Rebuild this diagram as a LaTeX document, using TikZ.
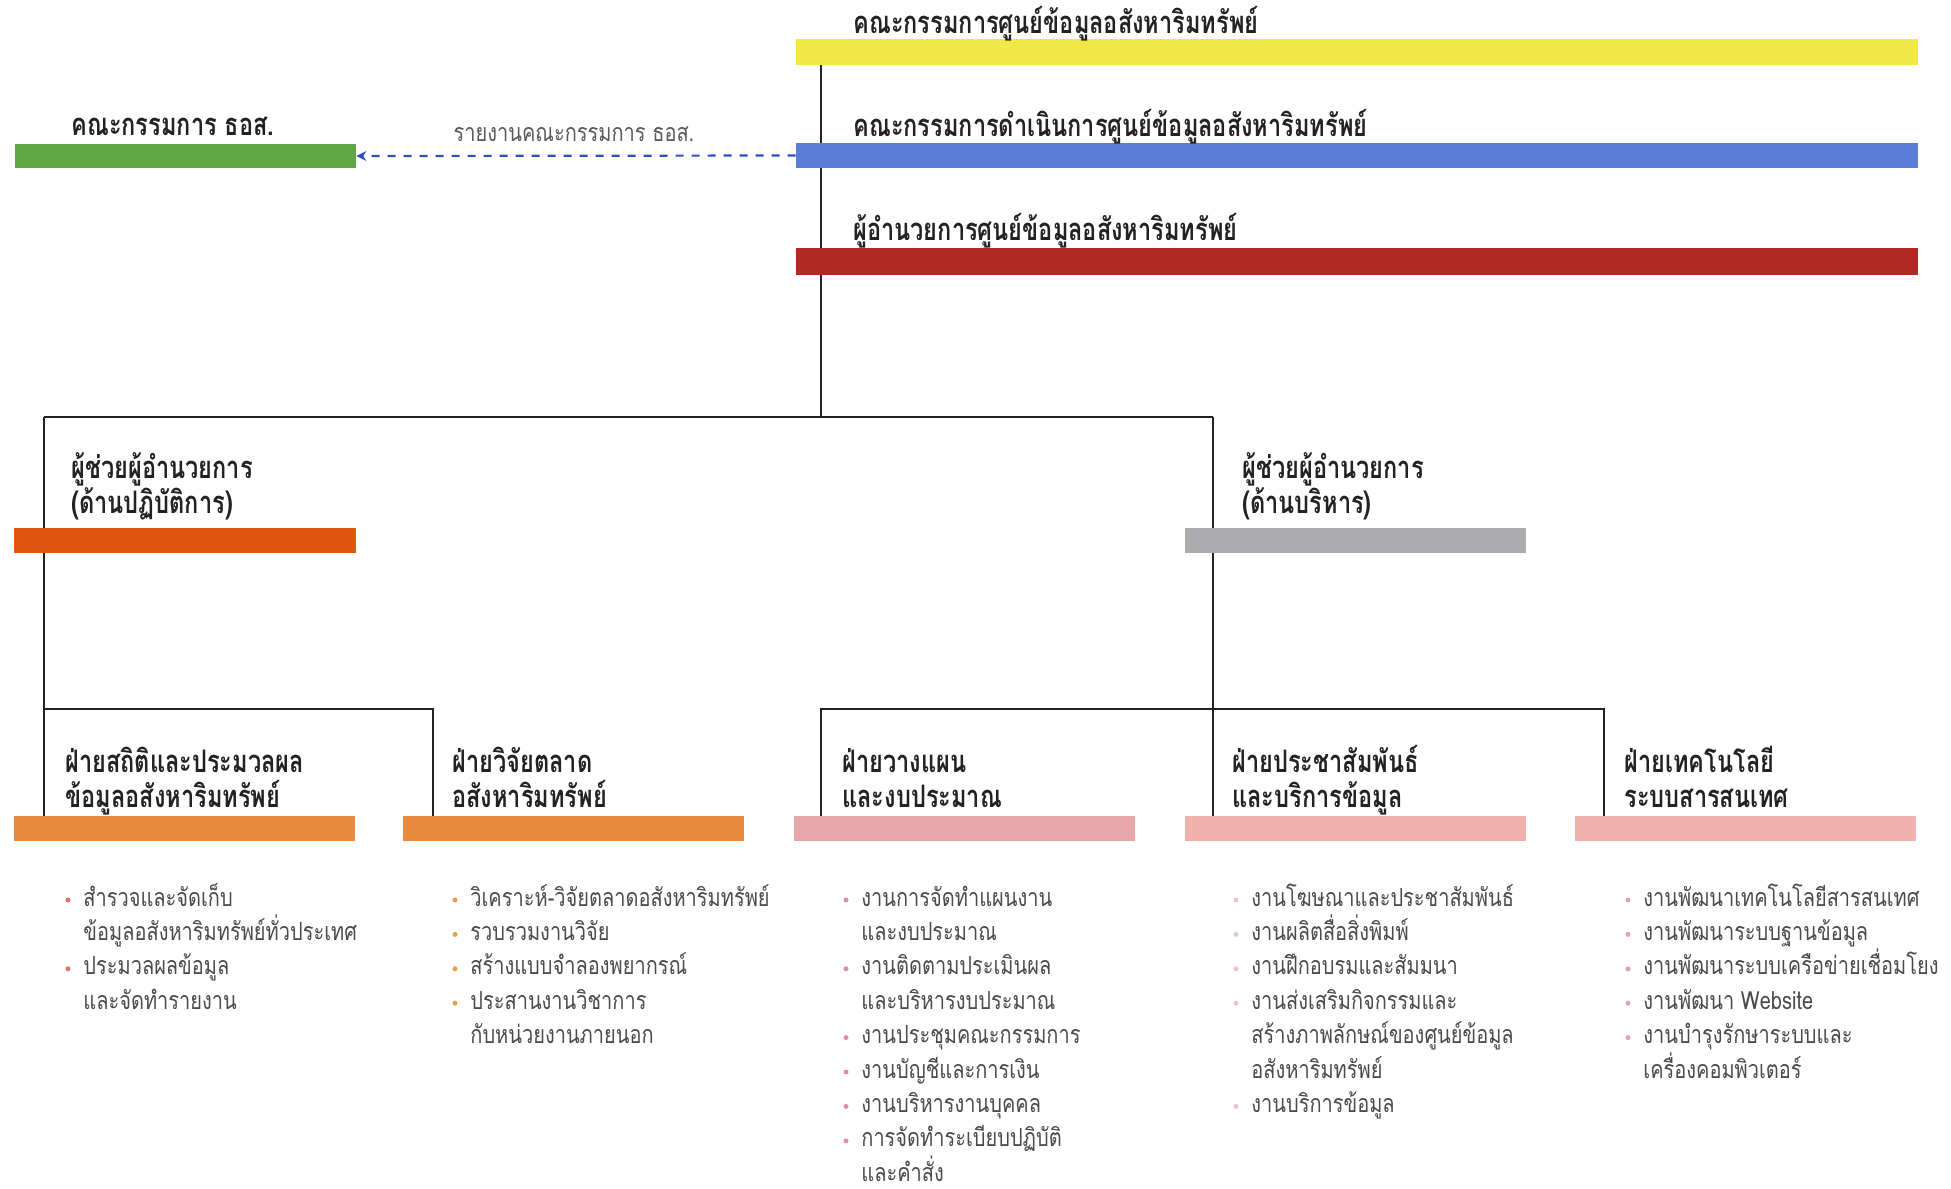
\documentclass[tikz,border=0pt]{standalone}
\usepackage{fontspec}
\usetikzlibrary{arrows.meta,backgrounds}
\newfontfamily\thfont[Script=Thai,FakeStretch=0.8]{Loma}
\newfontfamily\thhead[Script=Thai,FakeStretch=0.76]{Loma}
\definecolor{cyel}{HTML}{F0E845}
\definecolor{cblu}{HTML}{5B7DD6}
\definecolor{cred}{HTML}{AE2A22}
\definecolor{cgrn}{HTML}{5EA845}
\definecolor{cops}{HTML}{E0560F}
\definecolor{cgry}{HTML}{ABABAE}
\definecolor{corg}{HTML}{E98B3F}
\definecolor{cpk1}{HTML}{E6A6A8}
\definecolor{cpk2}{HTML}{F0B0AB}
\definecolor{carr}{HTML}{2F4FBF}
\definecolor{ctxt}{HTML}{222222}
\definecolor{citm}{HTML}{4A4A4A}
\definecolor{dot1}{HTML}{E8706A}
\definecolor{dot2}{HTML}{E8A040}
\definecolor{dot3}{HTML}{E0909A}
\definecolor{dot4}{HTML}{E8C4C4}
\definecolor{dot5}{HTML}{E8A0A8}
\newcommand\blist[4]{%
  \foreach \kk/\bb/\txt in {#4} {%
    \pgfmathsetmacro\yy{900+34.4*(\kk-1)}%
    \node[itm] (#1-\kk) at (#2+15,\yy+6) {\txt};%
    \ifnum\bb=1 \node[dotn,fill=#3] (#1-d\kk) at (#2,\yy) {};\fi
  }%
}
\begin{document}
\begin{tikzpicture}[x=0.5pt,y=-0.5pt,
  bar/.style={rectangle,inner sep=0pt,draw=none,minimum height=12.5pt},
  head/.style={font=\thhead\bfseries\fontsize{15.5}{17}\selectfont,text=ctxt,inner sep=0pt,anchor=base west},
  itm/.style={font=\thfont\fontsize{12.5}{14}\selectfont,text=citm,inner sep=0pt,anchor=base west},
  lab/.style={font=\thfont\fontsize{12.5}{14}\selectfont,text=black!65,inner sep=0pt},
  dotn/.style={circle,inner sep=0pt,minimum size=2.5pt,draw=none},
  conn/.style={draw=ctxt,line width=1.2pt}]
\useasboundingbox (0,0) rectangle (1951,1189);
% bars
\node[bar,fill=cyel,minimum width=561pt,minimum height=13pt] (yel) at (1357,52) {};
\node[bar,fill=cblu,minimum width=561pt] (blu) at (1357,155.5) {};
\node[bar,fill=cred,minimum width=561pt,minimum height=13.5pt] (red) at (1357,261.5) {};
\node[bar,fill=cgrn,minimum width=170.5pt,minimum height=12pt] (grn) at (185.5,156) {};
\node[bar,fill=cops,minimum width=171pt] (ops) at (185,540.5) {};
\node[bar,fill=cgry,minimum width=170.5pt] (adm) at (1355.5,540.5) {};
\node[bar,fill=corg,minimum width=170.5pt] (d1) at (184.5,828.5) {};
\node[bar,fill=corg,minimum width=170.5pt] (d2) at (573.5,828.5) {};
\node[bar,fill=cpk1,minimum width=170.5pt] (d3) at (964.5,828.5) {};
\node[bar,fill=cpk2,minimum width=170.5pt] (d4) at (1355.5,828.5) {};
\node[bar,fill=cpk2,minimum width=170.5pt] (d5) at (1745.5,828.5) {};
% titles
\node[head] (tyel) at (853,33) {คณะกรรมการศูนย์ข้อมูลอสังหาริมทรัพย์};
\node[head] (tblu) at (853,136) {คณะกรรมการดำเนินการศูนย์ข้อมูลอสังหาริมทรัพย์};
\node[head] (tred) at (853,240) {ผู้อำนวยการศูนย์ข้อมูลอสังหาริมทรัพย์};
\node[head] (tgrn) at (71,135) {คณะกรรมการ ธอส.};
\node[head] (tops1) at (71,478) {ผู้ช่วยผู้อำนวยการ};
\node[head] (tops2) at (71,513) {(ด้านปฏิบัติการ)};
\node[head] (tadm1) at (1242,478) {ผู้ช่วยผู้อำนวยการ};
\node[head] (tadm2) at (1242,513) {(ด้านบริหาร)};
\node[head] (t1a) at (65,772) {ฝ่ายสถิติและประมวลผล};
\node[head] (t1b) at (65,807) {ข้อมูลอสังหาริมทรัพย์};
\node[head] (t2a) at (452,772) {ฝ่ายวิจัยตลาด};
\node[head] (t2b) at (452,807) {อสังหาริมทรัพย์};
\node[head] (t3a) at (842,772) {ฝ่ายวางแผน};
\node[head] (t3b) at (842,807) {และงบประมาณ};
\node[head] (t4a) at (1232,772) {ฝ่ายประชาสัมพันธ์};
\node[head] (t4b) at (1232,807) {และบริการข้อมูล};
\node[head] (t5a) at (1624,772) {ฝ่ายเทคโนโลยี};
\node[head] (t5b) at (1624,807) {ระบบสารสนเทศ};
% lists
\blist{la}{68}{dot1}{1/1/สำรวจและจัดเก็บ, 2/0/ข้อมูลอสังหาริมทรัพย์ทั่วประเทศ, 3/1/ประมวลผลข้อมูล, 4/0/และจัดทำรายงาน}
\blist{lb}{455}{dot2}{1/1/วิเคราะห์-วิจัยตลาดอสังหาริมทรัพย์, 2/1/รวบรวมงานวิจัย, 3/1/สร้างแบบจำลองพยากรณ์, 4/1/ประสานงานวิชาการ, 5/0/กับหน่วยงานภายนอก}
\blist{lc}{846}{dot3}{1/1/งานการจัดทำแผนงาน, 2/0/และงบประมาณ, 3/1/งานติดตามประเมินผล, 4/0/และบริหารงบประมาณ, 5/1/งานประชุมคณะกรรมการ, 6/1/งานบัญชีและการเงิน, 7/1/งานบริหารงานบุคคล, 8/1/การจัดทำระเบียบปฏิบัติ, 9/0/และคำสั่ง}
\blist{ld}{1236}{dot4}{1/1/งานโฆษณาและประชาสัมพันธ์, 2/1/งานผลิตสื่อสิ่งพิมพ์, 3/1/งานฝึกอบรมและสัมมนา, 4/1/งานส่งเสริมกิจกรรมและ, 5/0/สร้างภาพลักษณ์ของศูนย์ข้อมูล, 6/0/อสังหาริมทรัพย์, 7/1/งานบริการข้อมูล}
\blist{le}{1628}{dot5}{1/1/งานพัฒนาเทคโนโลยีสารสนเทศ, 2/1/งานพัฒนาระบบฐานข้อมูล, 3/1/งานพัฒนาระบบเครือข่ายเชื่อมโยง, 4/1/งานพัฒนา Website, 5/1/งานบำรุงรักษาระบบและ, 6/0/เครื่องคอมพิวเตอร์}
% dashed report arrow
\node[lab] (rep) at (574,134) {รายงานคณะกรรมการ ธอส.};
\draw[carr,line width=1.1pt,dash pattern=on 4pt off 4pt,-{Stealth[length=5pt,width=5pt]}] (blu.west) -- (grn.east);
% connectors
\coordinate (j0) at (821,417);
\coordinate (jl) at (44,417);
\coordinate (jr) at (1213,417);
\coordinate (kl) at (44,709);
\coordinate (k2) at (433,709);
\coordinate (k3) at (821,709);
\coordinate (k5) at (1604,709);
\begin{pgfonlayer}{background}
\draw[conn] (yel.south -| j0) -- (j0);
\draw[conn] (jl) -- (jr);
\draw[conn] (jl) -- (jl |- d1.north);
\draw[conn] (jr) -- (jr |- d4.north);
\draw[conn] (kl) -- (k2) -- (k2 |- d2.north);
\draw[conn] (k3 |- d3.north) -- (k3) -- (k5) -- (k5 |- d5.north);
\end{pgfonlayer}
\end{tikzpicture}
\end{document}
